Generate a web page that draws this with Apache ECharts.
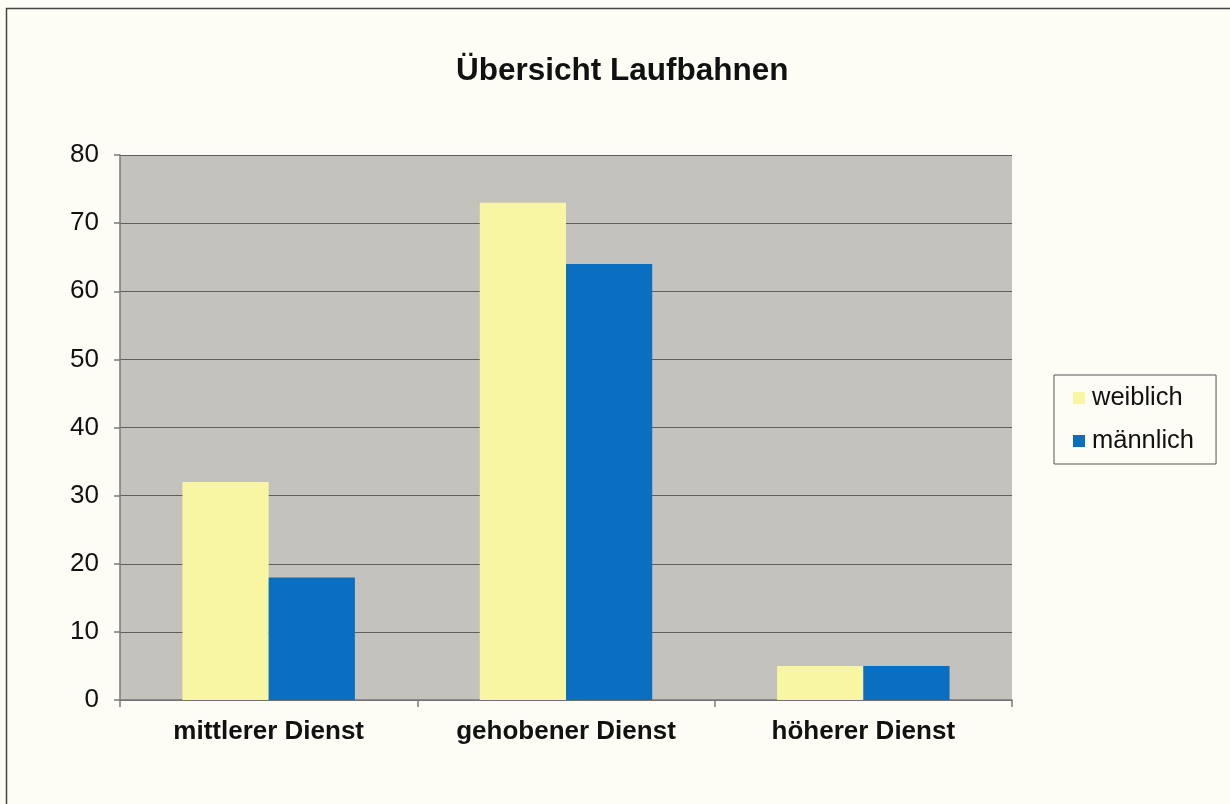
<!DOCTYPE html>
<html>
<head>
<meta charset="utf-8">
<script src="https://cdn.jsdelivr.net/npm/echarts@6/dist/echarts.min.js"></script>
<style>
  html, body { margin: 0; padding: 0; background: #fdfcf5; }
  #chart { width: 1230px; height: 804px; }
</style>
</head>
<body>
<div id="chart"></div>
<script>
// Daten
var categories = ['mittlerer Dienst', 'gehobener Dienst', 'höherer Dienst'];
var weiblich = [32, 73, 5];
var maennlich = [18, 64, 5];
var yTicks = [0, 10, 20, 30, 40, 50, 60, 70, 80];

var myChart = echarts.init(document.getElementById('chart'));
var font = 'Liberation Sans, Arial, sans-serif';

var option = {
    backgroundColor: '#fdfcf5',
    animation: false,
    title: {
        text: 'Übersicht Laufbahnen',
        left: 456,
        top: 55,
        padding: 0,
        textStyle: { fontFamily: font, fontSize: 31.5, fontWeight: 'bold', color: '#111' }
    },
    legend: {
        orient: 'vertical',
        left: 1054,
        top: 375,
        padding: [10, 22, 10, 19],
        itemWidth: 12,
        itemHeight: 12,
        itemGap: 17,
        borderColor: '#555',
        borderWidth: 1,
        icon: 'rect',
        textStyle: { fontFamily: font, fontSize: 25.5, color: '#111', lineHeight: 26, padding: [0, 0, 0, 2] },
        data: ['weiblich', 'männlich']
    },
    grid: {
        left: 120,
        right: 218,
        top: 155,
        bottom: 104,
        show: true,
        backgroundColor: '#c4c2bc',
        borderWidth: 0
    },
    graphic: [{
        type: 'rect',
        shape: { x: 6.5, y: 8.5, width: 1240, height: 820 },
        style: { fill: 'none', stroke: '#444', lineWidth: 1.5 },
        silent: true
    }],
    xAxis: {
        type: 'category',
        data: categories,
        axisLine: { lineStyle: { color: '#7a7a7a', width: 1.5 } },
        axisTick: { show: true, length: 7, lineStyle: { color: '#7a7a7a', width: 1.5 } },
        axisLabel: { fontFamily: font, fontSize: 26, fontWeight: 'bold', color: '#111', margin: 19 }
    },
    yAxis: {
        type: 'value',
        min: yTicks[0],
        max: yTicks[yTicks.length - 1],
        interval: 10,
        axisLine: { show: true, lineStyle: { color: '#7a7a7a', width: 1.5 } },
        axisTick: { show: true, length: 6, lineStyle: { color: '#7a7a7a', width: 1.5 } },
        splitLine: { show: true, lineStyle: { color: '#5e5e5e', width: 1.2 } },
        axisLabel: { fontFamily: font, fontSize: 26, color: '#111', margin: 21 }
    },
    series: [
        {
            name: 'weiblich',
            type: 'bar',
            data: weiblich,
            barGap: 0,
            barCategoryGap: '42%',
            itemStyle: { color: '#f8f6a2' }
        },
        {
            name: 'männlich',
            type: 'bar',
            data: maennlich,
            barGap: 0,
            barCategoryGap: '42%',
            itemStyle: { color: '#0a6fc0' }
        }
    ]
};
myChart.setOption(option);
</script>
</body>
</html>
